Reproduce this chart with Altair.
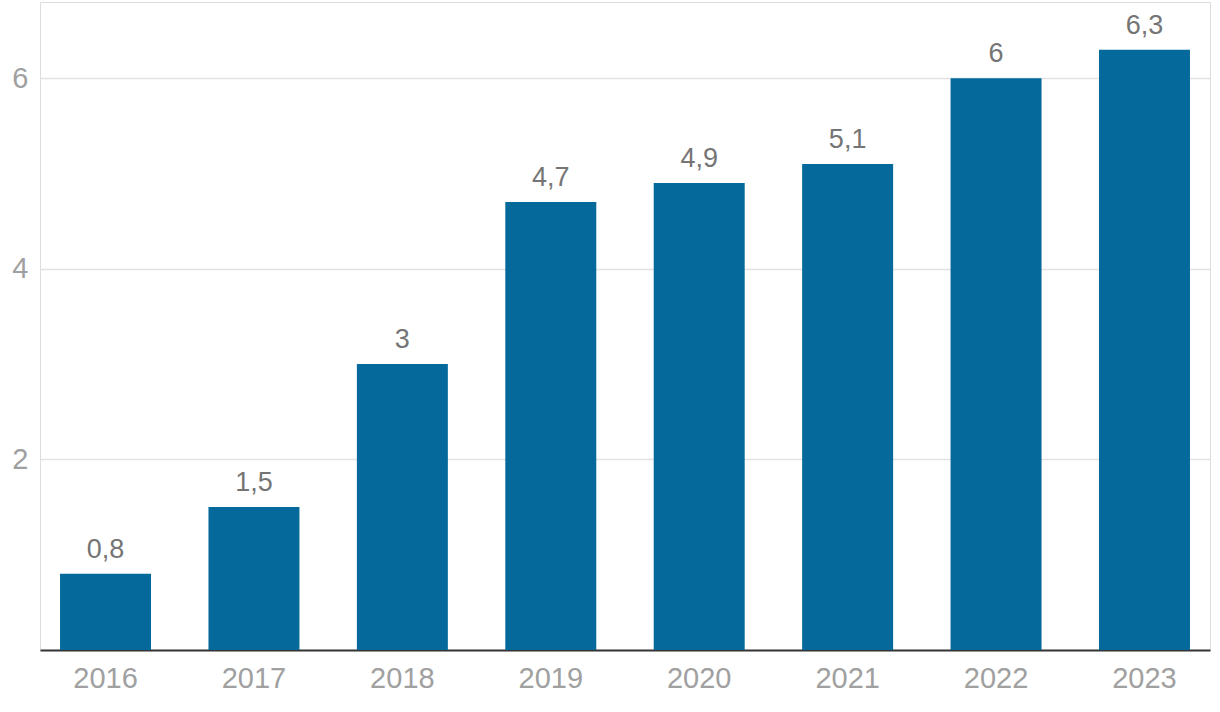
import altair as alt
import pandas as pd

years = ["2016", "2017", "2018", "2019", "2020", "2021", "2022", "2023"]
values = [0.8, 1.5, 3.0, 4.7, 4.9, 5.1, 6.0, 6.3]

df = pd.DataFrame({"year": years, "value": values})

FONT = "Liberation Sans"

base = alt.Chart(df).encode(
    x=alt.X(
        "year:N",
        sort=years,
        scale=alt.Scale(paddingInner=0.387, paddingOuter=0.135),
        axis=alt.Axis(
            title=None,
            labelAngle=0,
            labelFontSize=29,
            labelColor="#a0a0a0",
            labelFont=FONT,
            labelPadding=14,
            ticks=False,
            domain=True,
            domainColor="#333333",
            domainWidth=2,
            grid=False,
        ),
    ),
    y=alt.Y(
        "value:Q",
        scale=alt.Scale(domain=[0, 6.8], nice=False),
        axis=alt.Axis(
            title=None,
            values=[2, 4, 6],
            labelFontSize=29,
            labelColor="#a0a0a0",
            labelFont=FONT,
            labelPadding=12,
            ticks=False,
            domain=False,
            grid=True,
            gridColor="#e2e2e2",
            gridWidth=1.5,
        ),
    ),
)

bars = base.mark_bar(color="#05699b")

labels = base.transform_calculate(
    label="replace(format(datum.value, '.1~f'), '.', ',')"
).mark_text(
    baseline="alphabetic",
    dy=-16,
    fontSize=27,
    font=FONT,
    color="#757575",
).encode(text="label:N")

chart = (
    (bars + labels)
    .properties(
        width=1170,
        height=648,
        autosize=alt.AutoSizeParams(type="none"),
        padding={"left": 40, "top": 2, "right": 10, "bottom": 62},
    )
    .configure_view(stroke="transparent", strokeWidth=0)
    .configure(background="white")
)

chart.save("out.html", embed_options={"renderer": "svg", "actions": False})
